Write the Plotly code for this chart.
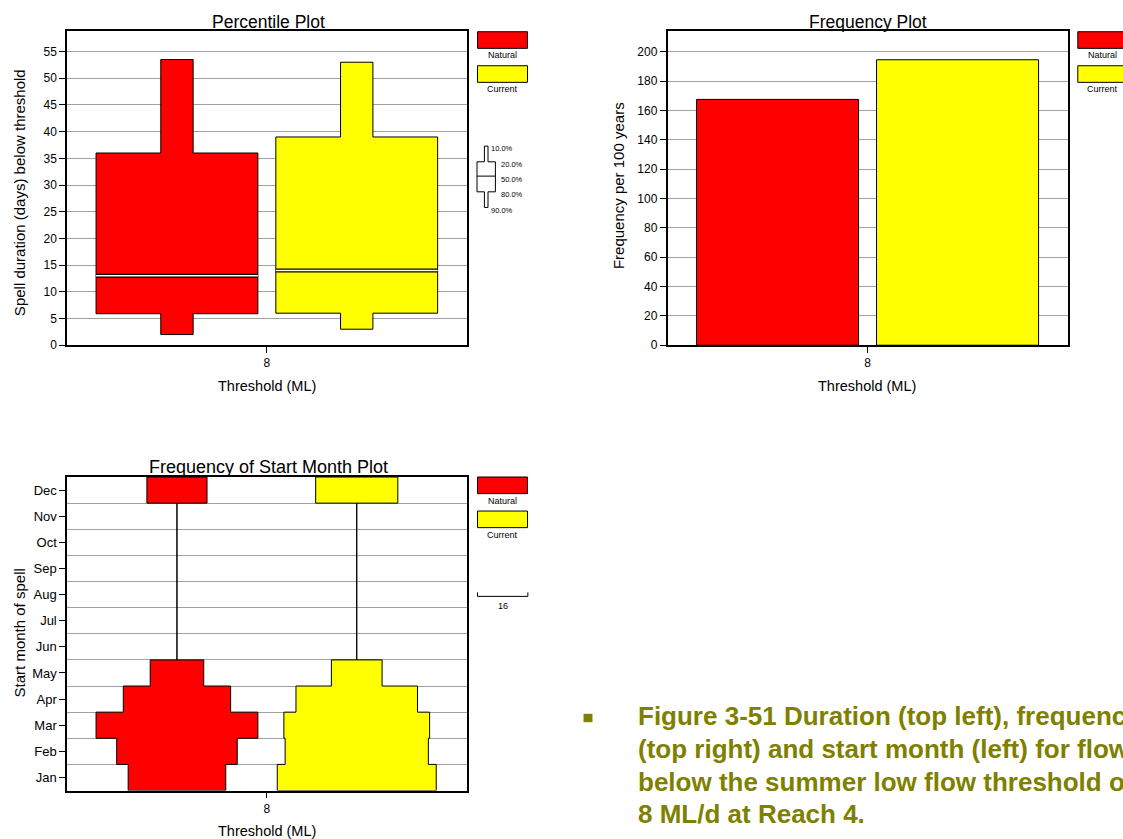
import plotly.graph_objects as go

# ---- data ----
series = ["Natural", "Current"]
colors = ["#ff0000", "#ffff00"]
threshold = "8"

# percentile plot: spell duration (days) below threshold
pct_labels = ["10.0%", "20.0%", "50.0%", "80.0%", "90.0%"]
natural_pct = [53.5, 36.0, 13.0, 5.9, 2.0]
current_pct = [53.0, 39.0, 14.0, 6.0, 3.0]

# frequency plot: spells per 100 years
natural_freq = 167.5
current_freq = 194.5

# start month plot
months = ["Jan", "Feb", "Mar", "Apr", "May", "Jun", "Jul", "Aug", "Sep", "Oct", "Nov", "Dec"]
natural_start = [31.0, 38.3, 51.4, 34.1, 17.0, 0, 0, 0, 0, 0, 0, 19.1]
current_start = [50.5, 45.5, 46.3, 38.6, 16.1, 0, 0, 0, 0, 0, 0, 26.1]
scale_value = 16

caption = ["Figure 3-51 Duration (top left), frequency",
           "(top right) and start month (left) for flows",
           "below the summer low flow threshold of",
           "8 ML/d at Reach 4."]

# ---- layout helpers (pixels -> paper) ----
W, H = 1123, 839
VFIX = 0.991  # the page comes out slightly squashed vertically
FONT = "Liberation Sans, Arial, sans-serif"
GRID = "#a0a0a0"
OLIVE = "#808000"


def fx(px):
    return px / W


def fy(py):
    return 1 - py / (H * VFIX)


# group geometry shared by all three plots (same as bargap / bargroupgap = 0.1)
bargap, bargroupgap = 0.1, 0.1
slot = (1 - bargap) / 2
centres = [-slot / 2, slot / 2]
wide = slot * (1 - bargroupgap)
narrow = wide * 0.2

fig = go.Figure()

# ---- percentile plot ----
for name, col, p, c in zip(series, colors, [natural_pct, current_pct], centres):
    hi, q_hi, med, q_lo, lo = p
    w, n = wide / 2, narrow / 2
    xs = [c - n, c + n, c + n, c + w, c + w, c + n, c + n, c - n, c - n, c - w, c - w, c - n, c - n]
    ys = [lo, lo, q_lo, q_lo, q_hi, q_hi, hi, hi, q_hi, q_hi, q_lo, q_lo, lo]
    fig.add_trace(go.Scatter(x=xs, y=ys, fill="toself", fillcolor=col, mode="lines",
                             line=dict(color="black", width=1), name=name,
                             xaxis="x", yaxis="y", showlegend=False))
    fig.add_trace(go.Scatter(x=[c - w, c + w], y=[med, med], mode="lines",
                             line=dict(color="black", width=4), xaxis="x", yaxis="y",
                             showlegend=False, hoverinfo="skip"))
    fig.add_trace(go.Scatter(x=[c - w, c + w], y=[med, med], mode="lines",
                             line=dict(color="white", width=1.5), xaxis="x", yaxis="y",
                             showlegend=False, name=name + " median"))

# ---- frequency plot ----
for name, col, v in zip(series, colors, [natural_freq, current_freq]):
    fig.add_trace(go.Bar(x=[threshold], y=[v], name=name, marker=dict(color=col, line=dict(color="black", width=1)),
                         xaxis="x2", yaxis="y2", showlegend=False))

# ---- start month plot ----
max_start = max(natural_start + current_start)
k = wide / max_start
for name, col, vals, c in zip(series, colors, [natural_start, current_start], centres):
    xs, ys = [], []
    for i, v in enumerate(vals):
        xs += [c + v * k / 2, c + v * k / 2]
        ys += [i + 0.5, i + 1.5]
    for i in reversed(range(len(vals))):
        v = vals[i]
        xs += [c - v * k / 2, c - v * k / 2]
        ys += [i + 1.5, i + 0.5]
    xs.append(xs[0])
    ys.append(ys[0])
    fig.add_trace(go.Scatter(x=xs, y=ys, fill="toself", fillcolor=col, mode="lines",
                             line=dict(color="black", width=1), name=name,
                             xaxis="x3", yaxis="y3", showlegend=False))

axis_common = dict(showline=True, mirror=True, linecolor="black", linewidth=1.5, ticks="outside",
                   ticklen=6, tickcolor="black", tickwidth=1, zeroline=False,
                   tickfont=dict(family=FONT, size=12, color="black"))

# plot boxes in pixels
L1, R1 = 67.1, 466.6
L2, R2 = 667.5, 1067.6
T1, B1 = 30.7, 345.0
T3, B3 = 476.7, 790.0

fig.update_layout(
    width=W, height=H, margin=dict(l=0, r=0, t=0, b=0),
    paper_bgcolor="white", plot_bgcolor="white",
    font=dict(family=FONT, color="black"),
    barmode="group", bargap=bargap, bargroupgap=bargroupgap,
    xaxis=dict(axis_common, domain=[fx(L1), fx(R1)], anchor="y", range=[-0.5, 0.5],
               tickvals=[0], ticktext=[threshold], showgrid=False),
    yaxis=dict(axis_common, domain=[fy(B1), fy(T1)], anchor="x", range=[0, 58.9],
               dtick=5, showgrid=True, gridcolor=GRID, gridwidth=1),
    xaxis2=dict(axis_common, domain=[fx(L2), fx(R2)], anchor="y2", type="category",
                range=[-0.5, 0.5], showgrid=False),
    yaxis2=dict(axis_common, domain=[fy(B1), fy(T1)], anchor="x2", range=[0, 214.3],
                dtick=20, showgrid=True, gridcolor=GRID, gridwidth=1),
    xaxis3=dict(axis_common, domain=[fx(L1), fx(R1)], anchor="y3", range=[-0.5, 0.5],
                tickvals=[0], ticktext=[threshold], showgrid=False),
    yaxis3=dict(axis_common, domain=[fy(B3), fy(T3)], anchor="x3", range=[0.5, 12.5],
                tickvals=list(range(1, 13)), ticktext=months, showgrid=False,
                tickfont=dict(family=FONT, size=13, color="black"),
                minor=dict(tickvals=[i + 0.5 for i in range(1, 12)], showgrid=True,
                           gridcolor=GRID, gridwidth=1, ticks="")),
)

ann = []


def text(x, y, s, size, angle=0, anchor="center", color="black", bold=False):
    ann.append(dict(x=fx(x), y=fy(y), xref="paper", yref="paper", text=s, showarrow=False,
                    xanchor=anchor, yanchor="middle", textangle=angle,
                    font=dict(family=FONT, size=size, color=color,
                              weight="bold" if bold else "normal")))


# titles and axis titles
text(268, 21.7, "Percentile Plot", 17.5)
text(868, 21.7, "Frequency Plot", 17.5)
text(268, 466.7, "Frequency of Start Month Plot", 18)
text(19, 193, "Spell duration (days) below threshold", 15, angle=-90)
text(618, 186, "Frequency per 100 years", 15, angle=-90)
text(19, 633, "Start month of spell", 15, angle=-90)
text(267, 386, "Threshold (ML)", 14.5)
text(867, 386, "Threshold (ML)", 14.5)
text(267, 830, "Threshold (ML)", 14.5)

shapes = []


def legend_boxes(x0, y0):
    for i, (name, col) in enumerate(zip(series, colors)):
        top = y0 + i * 34
        shapes.append(dict(type="rect", xref="paper", yref="paper", x0=fx(x0), x1=fx(x0 + 50),
                           y0=fy(top + 16.6), y1=fy(top), fillcolor=col,
                           line=dict(color="black", width=1)))
        text(x0 + 25, top + 23.5, name, 9)


legend_boxes(477.5, 31.7)
legend_boxes(1077.8, 31.7)
legend_boxes(477.5, 476.7)

# percentile key glyph
gx = 486.2
gy = [146, 161.7, 176, 191.7, 207.3]
sn, sw = 1.8, 9.2
path = (f"M {fx(gx - sn)} {fy(gy[0])} L {fx(gx + sn)} {fy(gy[0])} L {fx(gx + sn)} {fy(gy[1])} "
        f"L {fx(gx + sw)} {fy(gy[1])} L {fx(gx + sw)} {fy(gy[3])} L {fx(gx + sn)} {fy(gy[3])} "
        f"L {fx(gx + sn)} {fy(gy[4])} L {fx(gx - sn)} {fy(gy[4])} L {fx(gx - sn)} {fy(gy[3])} "
        f"L {fx(gx - sw)} {fy(gy[3])} L {fx(gx - sw)} {fy(gy[1])} L {fx(gx - sn)} {fy(gy[1])} Z")
shapes.append(dict(type="path", xref="paper", yref="paper", path=path, fillcolor="white",
                   line=dict(color="black", width=1)))
shapes.append(dict(type="line", xref="paper", yref="paper", x0=fx(gx - sw), x1=fx(gx + sw),
                   y0=fy(gy[2]), y1=fy(gy[2]), line=dict(color="black", width=1)))
lab_x = [488.5, 498.5, 498.5, 498.5, 488.5]
lab_y = [148, 164, 179, 194.5, 210]
for lx, ly, s in zip(lab_x, lab_y, pct_labels):
    text(lx, ly, s, 7.5, anchor="left")

# scale bar for the start month widths
bar_px = scale_value * k * (R1 - L1)
sx0, sy = 477.5, 596
shapes.append(dict(type="path", xref="paper", yref="paper",
                   path=f"M {fx(sx0)} {fy(sy - 4)} L {fx(sx0)} {fy(sy)} L {fx(sx0 + bar_px)} {fy(sy)} "
                        f"L {fx(sx0 + bar_px)} {fy(sy - 4)}",
                   line=dict(color="black", width=1)))
text(sx0 + bar_px / 2, 606, str(scale_value), 9)

# caption
shapes.append(dict(type="rect", xref="paper", yref="paper", x0=fx(583.5), x1=fx(592.5),
                   y0=fy(721.7), y1=fy(713.3), fillcolor=OLIVE, line=dict(width=0)))
for i, line in enumerate(caption):
    text(636, 716 + i * 32.5, line, 26, anchor="left", color=OLIVE, bold=True)

fig.update_layout(annotations=ann, shapes=shapes)

fig.write_html("out.html", config={"displayModeBar": False},
               post_script="document.body.style.margin='0';")
